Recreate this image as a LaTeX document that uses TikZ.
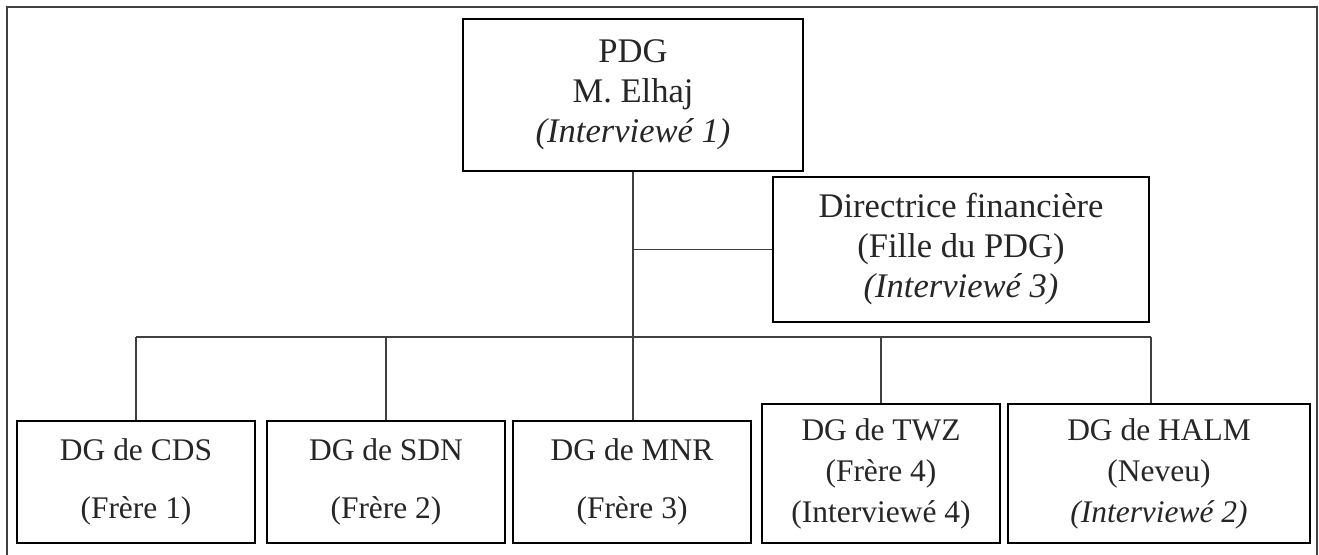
\documentclass[tikz,border=0pt]{standalone}
\usepackage{fontspec}
\setmainfont{Liberation Serif}
\begin{document}
\begin{tikzpicture}[x=0.75pt,y=-0.75pt,
  box/.style={draw=black,line width=2pt,rectangle,inner sep=0pt,align=center,text=black!85},
  topfont/.style={font=\fontsize{25.9pt}{30pt}\selectfont},
  botfont/.style={font=\fontsize{23.6pt}{30.75pt}\selectfont},
  link/.style={draw=black!75,line width=0.9pt},
  frame/.style={draw=black!75,line width=1.4pt}]
\useasboundingbox (0,0) rectangle (1319,555);
\draw[frame] (7,560) -- (7,7) -- (1317,7) -- (1317,560);
% boxes
\node[box,topfont,minimum width=255pt,minimum height=114pt] (pdg) at (633,95)
  {PDG\\M. Elhaj\\\textit{(Interviewé 1)}};
\node[box,topfont,minimum width=282pt,minimum height=108.75pt] (dir) at (961,249.5)
  {Directrice financière\\(Fille du PDG)\\\textit{(Interviewé 3)}};
\node[box,botfont,minimum width=178.5pt,minimum height=91.5pt] (cds) at (136,482)
  {DG de CDS\\[12.75pt](Frère 1)};
\node[box,botfont,minimum width=178.5pt,minimum height=91.5pt] (sdn) at (386,482)
  {DG de SDN\\[12.75pt](Frère 2)};
\node[box,botfont,minimum width=178.5pt,minimum height=91.5pt] (mnr) at (632,482)
  {DG de MNR\\[12.75pt](Frère 3)};
\node[box,botfont,minimum width=178.5pt,minimum height=104.25pt] (twz) at (881,473.5)
  {DG de TWZ\\(Frère 4)\\(Interviewé 4)};
\node[box,botfont,minimum width=226.5pt,minimum height=104.25pt] (halm) at (1159,473.5)
  {DG de HALM\\(Neveu)\\\textit{(Interviewé 2)}};
% connectors
\coordinate (bus) at (136,337);
\coordinate (hj) at (1151,337);
\draw[link] (pdg.south) -- (pdg.south |- mnr.north);
\draw[link] (pdg.south |- dir.west) -- (dir.west);
\draw[link] (cds.north |- bus) -- (hj);
\draw[link] (cds.north |- bus) -- (cds.north);
\draw[link] (sdn.north |- bus) -- (sdn.north);
\draw[link] (twz.north |- bus) -- (twz.north);
\draw[link] (hj) -- (hj |- halm.north);
\end{tikzpicture}
\end{document}
